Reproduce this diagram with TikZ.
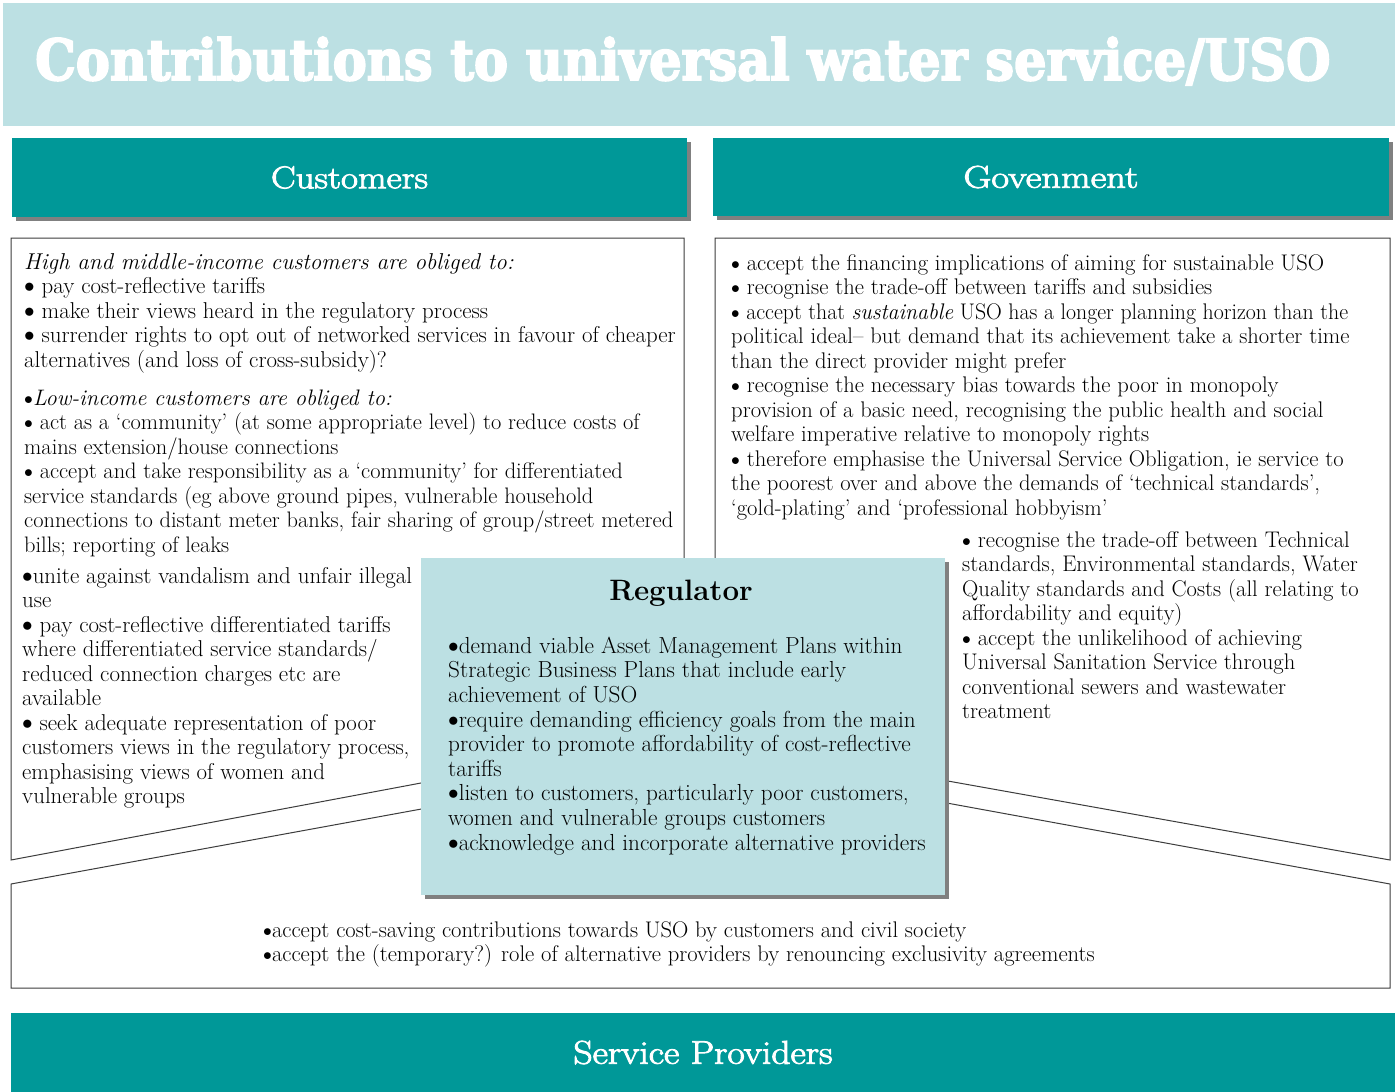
\documentclass[tikz,border=0pt]{standalone}
\usepackage{fontspec}
\usepackage{graphicx}
\usetikzlibrary{shadows}
\newfontfamily\titlefont{DejaVu Serif}[BoldFeatures={FakeBold=3.5}]
\newfontfamily\headfont{Latin Modern Roman}[FakeBold=2.5]
\definecolor{tealbar}{RGB}{0,152,152}
\definecolor{paleblue}{RGB}{188,224,227}
\definecolor{shadowgray}{RGB}{128,128,128}
\definecolor{edgegray}{RGB}{60,60,60}
\newcommand{\bul}{\raisebox{0.1ex}{\scalebox{0.85}{$\bullet$}}}
\begin{document}
\begin{tikzpicture}[x=1pt,y=-1pt,
  bodytext/.style={anchor=north west, inner sep=0pt, align=left, font=\fontsize{#1}{24.5}\selectfont},
  bodytext/.default=22.6,
  regtext/.style={anchor=north west, inner sep=0pt, align=left, font=\fontsize{23.2}{24.6}\selectfont},
  barbox/.style={fill=tealbar, draw=none, inner sep=0pt, text=white, font=\headfont\fontsize{32}{40}\selectfont,
    drop shadow={shadow xshift=4pt, shadow yshift=-4pt, fill=shadowgray, opacity=1}},
  outline/.style={draw=edgegray, line width=1pt, fill=white}
]
\useasboundingbox (0,0) rectangle (1395,1092);
\fill[white] (0,0) rectangle (1395,1092);

% title band
\node[fill=paleblue, inner sep=0pt, minimum width=1392pt, minimum height=123pt] (band) at (699,64.5) {};
\node[anchor=base west, inner sep=0pt, text=white] (title) at (35,80)
  {\resizebox{1295pt}{43pt}{\titlefont\bfseries Contributions to universal water service/USO}};

% header bars
\node[barbox, minimum width=675pt, minimum height=79pt] (custbar) at (349.5,177.5) {\resizebox{157pt}{22pt}{Customers}};
\node[barbox, minimum width=676pt, minimum height=78pt] (govbar) at (1051,177) {\resizebox{175pt}{22pt}{Govenment}};

% content boxes
\draw[outline] (11,238) -- (684,238) -- (684,733.6) -- (11,860) -- cycle;
\draw[outline] (715,238) -- (1390,238) -- (1390,860) -- (715,739.4) -- cycle;
\draw[outline] (11,884) -- (700.5,758) -- (1390,884) -- (1390,988) -- (11,988) -- cycle;

% customers text
\node[bodytext=22.9] (c1) at (24,251.85) {\strut\textit{High and middle-income customers are obliged to:}\\
\bul\ pay cost-reflective tariffs\\
\bul\ make their views heard in the regulatory process\\
\bul\ surrender rights to opt out of networked services in favour of cheaper\\
alternatives (and loss of cross-subsidy)?};
\node[bodytext=22.4] (c2) at (24,387.85) {\strut\bul\textit{Low-income customers are obliged to:}\\
\bul\ act as a ‘community’ (at some appropriate level) to reduce costs of\\
mains extension/house connections\\
\bul\ accept and take responsibility as a ‘community’ for differentiated\\
service standards (eg above ground pipes, vulnerable household\\
connections to distant meter banks, fair sharing of group/street metered\\
bills; reporting of leaks};
\node[bodytext=22.9] (c3) at (22,565.85) {\strut\bul unite against vandalism and unfair illegal\\
use\\
\bul\ pay cost-reflective differentiated tariffs\\
where differentiated service standards/\\
reduced connection charges etc are\\
available\\
\bul\ seek adequate representation of poor\\
customers views in the regulatory process,\\
emphasising views of women and\\
vulnerable groups};

% government text
\node[bodytext=22.6] (g1) at (731,252.85) {\strut\bul\ accept the financing implications of aiming for sustainable USO\\
\bul\ recognise the trade-off between tariffs and subsidies\\
\scalebox{0.966}[1]{\bul\ accept that \textit{sustainable} USO has a longer planning horizon than the}\\
political ideal– but demand that its achievement take a shorter time\\
than the direct provider might prefer\\
\bul\ recognise the necessary bias towards the poor in monopoly\\
provision of a basic need, recognising the public health and social\\
welfare imperative relative to monopoly rights\\
\bul\ therefore emphasise the Universal Service Obligation, ie service to\\
the poorest over and above the demands of ‘technical standards’,\\
‘gold-plating’ and ‘professional hobbyism’};
\node[bodytext=22.6] (g2) at (962,529.85) {\strut\bul\ recognise the trade-off between Technical\\
standards, Environmental standards, Water\\
Quality standards and Costs (all relating to\\
affordability and equity)\\
\bul\ accept the unlikelihood of achieving\\
Universal Sanitation Service through\\
conventional sewers and wastewater\\
treatment};

% regulator
\node[fill=paleblue, inner sep=0pt, minimum width=524pt, minimum height=337pt,
  drop shadow={shadow xshift=4pt, shadow yshift=-4pt, fill=shadowgray, opacity=1}] (reg) at (683,726.5) {};
\node[anchor=base, inner sep=0pt, font=\fontsize{29.5}{34}\selectfont\bfseries] (regtitle) at (681,600) {Regulator};
\node[regtext] (r1) at (448,635.8) {\strut\bul demand viable Asset Management Plans within\\
Strategic Business Plans that include early\\
achievement of USO\\
\bul require demanding efficiency goals from the main\\
provider to promote affordability of cost-reflective\\
tariffs\\
\bul listen to customers, particularly poor customers,\\
women and vulnerable groups customers\\
\bul acknowledge and incorporate alternative providers};

% service providers
\node[bodytext=22.6] (s1) at (263,919.85) {\strut\bul accept cost-saving contributions towards USO by customers and civil society\\
\bul accept the (temporary?) role of alternative providers by renouncing exclusivity agreements};
\node[barbox, minimum width=1384pt, minimum height=79pt] (spbar) at (703,1052.5) {\resizebox{259pt}{23pt}{Service Providers}};
\end{tikzpicture}
\end{document}
